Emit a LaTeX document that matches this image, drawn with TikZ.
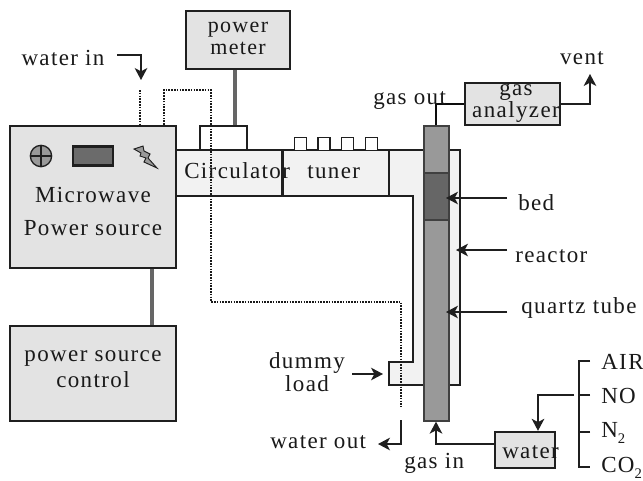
\documentclass[tikz,border=0pt]{standalone}
\usepackage{fontspec}
\setmainfont[LetterSpace=6]{Liberation Serif}
\usetikzlibrary{arrows.meta}
\tikzset{
  box/.style={draw=black!88,line width=1.8pt,fill=black!11,inner sep=0pt,align=center},
  lbl/.style={inner sep=0pt,align=center,font=\fontsize{17.25pt}{19.5pt}\selectfont,text=black!90},
  lblm/.style={lbl,font=\fontsize{16.5pt}{16.5pt}\selectfont},
  lblt/.style={lbl,font=\fontsize{17.25pt}{15pt}\selectfont},
  pipe/.style={draw=black!88,line width=1.6pt,fill=black!5},
  tube/.style={draw=black!75,line width=1.2pt,fill=black!40},
  thinline/.style={draw=black!88,line width=1.1pt},
  arr/.style={thinline,-{Stealth[length=9pt,width=9.5pt,inset=2.5pt]}},
  dots/.style={draw=black!90,line width=1.3pt,dash pattern=on 1.2pt off 0.9pt},
  cable/.style={draw=black!60,line width=3pt},
}
\newcommand{\subtwo}{\raisebox{-4pt}{\fontsize{11pt}{11pt}\selectfont 2}}
\begin{document}
\begin{tikzpicture}[x=0.75pt,y=-0.75pt]
\useasboundingbox (0,0) rectangle (643,480);
% guide and reactor body
\draw[pipe] (176,150) -- (460,150) -- (460,385) -- (389,385) -- (389,362) -- (413,362) -- (413,196) -- (176,196) -- cycle;
\draw[pipe] (282.5,150) -- (282.5,196);
\draw[pipe] (389,150) -- (389,196);
% knobs
\node[draw=black!88,line width=1.4pt,fill=white,minimum width=35.2pt,minimum height=18pt,inner sep=0pt] (circtop) at (223.5,138) {};
\foreach \i/\x in {a/300.5,b/324,c/347.5,d/371.5}
  \node[draw=black!88,line width=1.2pt,fill=white,minimum width=9.2pt,minimum height=9.6pt,inner sep=0pt] (knob\i) at (\x,144) {};
% boxes
\node[box,minimum width=124.5pt,minimum height=106.5pt] (source) at (93,197) {};
\node[box,minimum width=124.5pt,minimum height=71pt] (control) at (93,373.5) {};
\node[box,minimum width=78pt,minimum height=43.5pt] (meter) at (238,40) {};
\node[box,minimum width=71pt,minimum height=31.5pt] (analyzer) at (512.5,104) {};
\node[box,minimum width=45pt,minimum height=27pt] (waterbox) at (525,450) {};
% gas outlet line
\coordinate (gj) at (436,104);
% tube
\node[tube,minimum width=18.7pt,minimum height=221pt,inner sep=0pt] (tube) at (436.5,273.5) {};
\node[tube,fill=black!60,minimum width=18.7pt,minimum height=35.2pt,inner sep=0pt] (bed) at (436.5,196.5) {};
\draw[thinline,line width=1.4pt,draw=black!95] (tube.north -| gj) -- (gj) -- (analyzer.west |- gj);
% cables
\coordinate (ca) at (235,0);
\coordinate (cb) at (152,0);
\draw[cable] (meter.south -| ca) -- (circtop.north -| ca);
\draw[cable] (source.south -| cb) -- (control.north -| cb);
% coolant
\coordinate (wa) at (140,90);
\coordinate (wb) at (164,90);
\coordinate (wc) at (211,90);
\coordinate (wd) at (211,302);
\coordinate (we) at (401,302);
\coordinate (wf) at (401,407);
\draw[dots] (wa) -- (wa |- source.north);
\draw[dots] (wb |- source.north) -- (wb) -- (wc) -- (wd) -- (we) -- (wf);
% water in arrow
\coordinate (wia) at (117,55);
\coordinate (wib) at (141,55);
\coordinate (wic) at (141,80);
\draw[arr] (wia) -- (wib) -- (wic);
% water out arrow
\coordinate (woa) at (401,420);
\coordinate (wob) at (401,444);
\coordinate (woc) at (378,444);
\draw[arr] (woa) -- (wob) -- (woc);
% gas lines
\coordinate (vb) at (590,104);
\coordinate (vc) at (590,74);
\draw[arr] (analyzer.east) -- (vb) -- (vc);
\coordinate (ga) at (436,444);
\draw[arr] (waterbox.west |- ga) -- (ga) -- (tube.south -| ga);
% pointers
\coordinate (pb) at (507,198);
\coordinate (pr) at (507,250);
\coordinate (pq) at (507,312);
\coordinate (pd) at (352,374);
\draw[arr] (pb) -- (446,198);
\draw[arr] (pr) -- (456,250);
\draw[arr] (pq) -- (446,312);
\draw[arr] (pd) -- (383,374);
% gas manifold
\coordinate (ma) at (590,361);
\coordinate (mb) at (579,361);
\coordinate (mc) at (579,467);
\coordinate (md) at (590,467);
\draw[thinline] (ma) -- (mb) -- (mc) -- (md);
\coordinate (no) at (590,395);
\coordinate (nt) at (590,432);
\draw[thinline] (no) -- (no -| mb);
\draw[thinline] (nt) -- (nt -| mb);
\coordinate (fa) at (574,395);
\coordinate (fb) at (538,395);
\draw[arr] (fa) -- (fb) -- (waterbox.north -| fb);
% icons
\node[draw=black!88,line width=1pt,fill=black!40,circle,minimum size=16pt,inner sep=0pt] (dial) at (41,156) {};
\draw[black!88,line width=.9pt] (dial.north) -- (dial.south) (dial.west) -- (dial.east);
\node[draw=black!88,line width=2pt,fill=black!58,minimum width=30pt,minimum height=14pt,inner sep=0pt] (display) at (93,156) {};
\draw[fill=black!40,draw=black!88,line width=.7pt] (134,149) -- (143,146) -- (144,151) -- (150,154) -- (148,158) -- (157,168) -- (144,162) -- (146,158) -- (140,156) -- (141,153) -- cycle;
% labels
\node[lbl] (l1) at (63,58) {water in};
\node[lblm] (l2) at (238,38) {power\\meter};
\node[lbl,anchor=west] (l3) at (184,171) {Circulator};
\node[lbl,anchor=west] (l4) at (307,172) {tuner};
\node[lbl] (l5) at (93,195) {Microwave};
\node[lbl] (l6) at (93,228) {Power source};
\node[lbl] (l7) at (93,369) {power source\\control};
\node[lbl,anchor=west] (l8) at (373,100) {gas out};
\node[lblt] (l9) at (516,103) {gas\\analyzer};
\node[lbl] (l10) at (582,58) {vent};
\node[lbl,anchor=west] (l11) at (518,203) {bed};
\node[lbl,anchor=west] (l12) at (515,256) {reactor};
\node[lbl,anchor=west] (l13) at (521,308) {quartz tube};
\node[lblt] (l14) at (307,372) {dummy\\load};
\node[lbl,anchor=west] (l15) at (270,442) {water out};
\node[lbl,anchor=west] (l16) at (404,463) {gas in};
\node[lbl,anchor=west] (l17) at (502,452) {water};
\node[lbl,anchor=west] (l18) at (601,362) {AIR};
\node[lbl,anchor=west] (l19) at (601,396) {NO};
\node[lbl,anchor=west] (l20) at (601,433) {N\subtwo};
\node[lbl,anchor=west] (l21) at (601,468) {CO\subtwo};
\end{tikzpicture}
\end{document}
